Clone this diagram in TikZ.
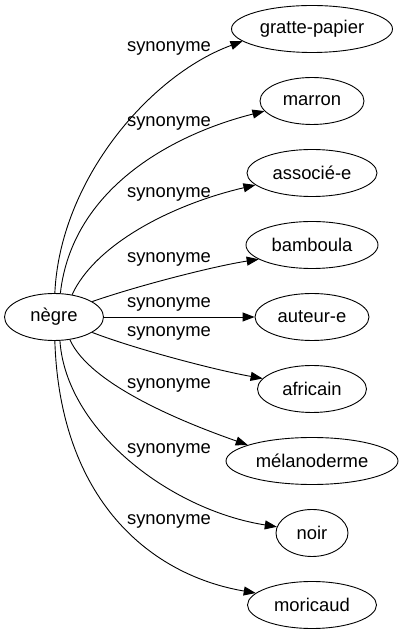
\documentclass[tikz,border=0pt]{standalone}
\usepackage{fontspec}
\setmainfont{Liberation Sans}
\usepackage{tikz}
\usetikzlibrary{shapes.geometric, arrows.meta, positioning}

\begin{document}
\begin{tikzpicture}[
    x=1pt, y=1pt,
    word/.style={ellipse, draw=black, line width=0.9pt, inner sep=0pt, minimum height=47pt, minimum width=#1, font=\fontsize{18.4}{22}\selectfont},
    lbl/.style={inner sep=0pt, font=\fontsize{18.4}{22}\selectfont},
    arrow/.style={-{Triangle[length=12pt,width=9pt]}, line width=0.9pt}
]
\useasboundingbox (0,0) rectangle (403,635);
\node[word=99pt] (negre) at (54,318) {nègre};
\node[word=161pt] (gp) at (312,606) {gratte-papier};
\node[word=104pt] (marron) at (312,534) {marron};
\node[word=130pt] (assoc) at (312,462) {associé-e};
\node[word=132pt] (bamb) at (312,390) {bamboula};
\node[word=114pt] (auteur) at (312,318) {auteur-e};
\node[word=109pt] (afric) at (312,246) {africain};
\node[word=172pt] (melano) at (312,174) {mélanoderme};
\node[word=72pt] (noir) at (312,102) {noir};
\node[word=129pt] (moric) at (312,30) {moricaud};
\node[lbl] (l1) at (169,587) {synonyme};
\node[lbl] (l2) at (169,512) {synonyme};
\node[lbl] (l3) at (169,441) {synonyme};
\node[lbl] (l4) at (169,376) {synonyme};
\node[lbl] (l5) at (169,331) {synonyme};
\node[lbl] (l6) at (169,302) {synonyme};
\node[lbl] (l7) at (169,250) {synonyme};
\node[lbl] (l8) at (169,185) {synonyme};
\node[lbl] (l9) at (169,114) {synonyme};
\draw[arrow] (negre.88) .. controls (60,455) and (150,560) .. (gp.190);
\draw[arrow] (negre.75) .. controls (72,445) and (170,500) .. (marron.192);
\draw[arrow] (negre.51) .. controls (95,390) and (170,430) .. (assoc.192);
\draw[arrow] (negre.22) .. controls (140,350) and (215,369) .. (bamb.195);
\draw[arrow] (negre) -- (auteur);
\draw[arrow] (negre.338) .. controls (135,286) and (215,265) .. (afric.168);
\draw[arrow] (negre.305) .. controls (90,250) and (185,212) .. (melano.166);
\draw[arrow] (negre.284) .. controls (66,205) and (170,125) .. (noir.170);
\draw[arrow] (negre.272) .. controls (60,135) and (150,60) .. (moric.168);
\end{tikzpicture}
\end{document}
